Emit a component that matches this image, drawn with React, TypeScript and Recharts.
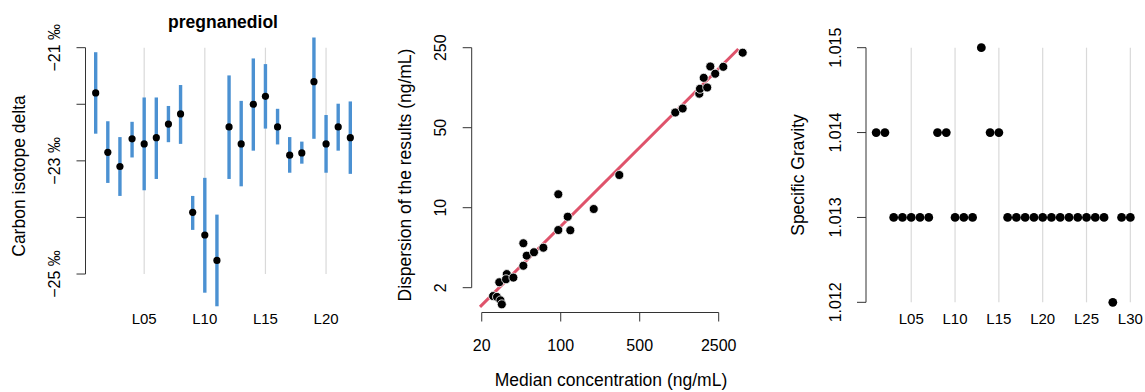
import { ScatterChart, Scatter, XAxis, YAxis, ErrorBar, ReferenceLine } from "recharts";

// panel 1: pregnanediol carbon isotope delta per lab
const isoLabs = [1, 2, 3, 4, 5, 6, 7, 8, 9, 10, 11, 12, 13, 14, 15, 16, 17, 18, 19, 20, 21, 22];
const isoValue = [-21.8, -22.85, -23.1, -22.61, -22.7, -22.59, -22.35, -22.17, -23.91, -24.31, -24.76, -22.4, -22.7, -22.0, -21.86, -22.4, -22.9, -22.86, -21.6, -22.7, -22.4, -22.59];
const isoLow = [-22.52, -23.39, -23.62, -22.94, -23.52, -23.32, -22.67, -22.7, -24.22, -25.33, -25.57, -23.32, -23.45, -22.82, -22.43, -22.71, -23.21, -23.05, -22.61, -23.21, -22.82, -23.23];
const isoHigh = [-21.08, -22.3, -22.58, -22.31, -21.88, -21.88, -22.03, -21.66, -23.62, -23.3, -23.95, -21.49, -21.94, -21.19, -21.29, -22.08, -22.58, -22.66, -20.82, -22.19, -21.99, -21.95];
const isoYTicks = [-25, -24, -23, -22, -21];
const isoYLabels = ["\u221225 \u2030", "", "\u221223 \u2030", "", "\u221221 \u2030"];
const isoXTicks = [5, 10, 15, 20];
const isoXLabels = ["L05", "L10", "L15", "L20"];

// panel 2: dispersion vs median concentration (log-log)
const medianConc = [25.2, 27.3, 29.3, 30.1, 28.6, 33.3, 32.8, 38.1, 46.7, 46.7, 50.0, 58.0, 70.2, 95.2, 121.6, 95.2, 115.3, 195.9, 330, 1032, 1200, 1684, 1708, 1978, 1842, 2107, 2328, 2746, 4076];
const dispersion = [1.69, 1.66, 1.55, 1.43, 2.23, 2.63, 2.37, 2.45, 3.11, 4.89, 3.81, 4.08, 4.47, 6.38, 6.35, 13.1, 8.34, 9.74, 19.3, 67.9, 73.6, 99.1, 109.4, 112.3, 136.4, 171.3, 148.1, 170.2, 226.2];
const fitConc = [19.3, 3728];
const fitDisp = [1.36, 243.5];
const concTicks = [20, 100, 500, 2500];
const dispTicks = [2, 10, 50, 250];

// panel 3: specific gravity per lab
const sgLabs = Array.from({ length: 30 }, (_, i) => i + 1);
const sgValue = [1.014, 1.014, 1.013, 1.013, 1.013, 1.013, 1.013, 1.014, 1.014, 1.013, 1.013, 1.013, 1.015, 1.014, 1.014, 1.013, 1.013, 1.013, 1.013, 1.013, 1.013, 1.013, 1.013, 1.013, 1.013, 1.013, 1.013, 1.012, 1.013, 1.013];
const sgYTicks = [1.012, 1.013, 1.014, 1.015];
const sgXTicks = [5, 10, 15, 20, 25, 30];
const sgXLabels = ["L05", "L10", "L15", "L20", "L25", "L30"];

const FONT = '"Liberation Sans", Arial, Helvetica, sans-serif';
const AXIS = "#333";
const GRID = "#d9d9d9";
const BLUE = "#4b91d2";
const RED = "#df536b";

const isoData = isoLabs.map((lab, i) => ({
  x: lab,
  y: isoValue[i],
  err: [isoValue[i] - isoLow[i], isoHigh[i] - isoValue[i]],
}));
const concData = medianConc.map((c, i) => ({ x: c, y: dispersion[i] }));
const fitData = fitConc.map((c, i) => ({ x: c, y: fitDisp[i] }));
const sgData = sgLabs.map((lab, i) => ({ x: lab, y: sgValue[i] }));

const rotTick = (labels?: string[], ticks?: number[]) => (props: any) => {
  const { x, y, payload } = props;
  let text = String(payload.value);
  if (labels && ticks) text = labels[ticks.indexOf(payload.value)] ?? "";
  return (
    <text x={x} y={y} dy="0.35em" textAnchor="middle" transform={`rotate(-90, ${x}, ${y})`}
      fontFamily={FONT} fontSize={16} fill="#000">
      {text}
    </text>
  );
};

const flatTick = (labels: string[] | null, ticks: number[] | null, size: number) => (props: any) => {
  const { x, y, payload } = props;
  let text = String(payload.value);
  if (labels && ticks) text = labels[ticks.indexOf(payload.value)] ?? "";
  return (
    <text x={x} y={y} dy="0.35em" textAnchor="middle" fontFamily={FONT} fontSize={size} fill="#000">
      {text}
    </text>
  );
};

const dot = (r: number, outline?: boolean) => (props: any) => (
  <circle cx={props.cx} cy={props.cy} r={r} fill="#000"
    stroke={outline ? "#fff" : "none"} strokeWidth={outline ? 0.8 : 0} />
);

const noDot = () => <g />;

const IsotopePanel = () => (
  <ScatterChart width={381} height={392} margin={{ top: 37.5, right: 20.5, bottom: 49.5, left: 25.5 }}>
    <XAxis type="number" dataKey="x" domain={[0.16, 22.84]} ticks={isoXTicks} axisLine={false}
      tickLine={false} tickSize={0} tickMargin={6} height={30} allowDataOverflow
      tick={flatTick(isoXLabels, isoXTicks, 15)} />
    <YAxis type="number" dataKey="y" domain={[-25.68, -20.82]} ticks={isoYTicks} width={60}
      axisLine={false} tickLine={{ stroke: AXIS }} stroke={AXIS} tickSize={9} tickMargin={22}
      allowDataOverflow tick={rotTick(isoYLabels, isoYTicks)} />
    {isoXTicks.map((t) => (
      <ReferenceLine key={t} segment={[{ x: t, y: -21 }, { x: t, y: -25 }]} stroke={GRID} strokeWidth={1.2} ifOverflow="visible" />
    ))}
    <ReferenceLine segment={[{ x: 0.16, y: -21 }, { x: 0.16, y: -25 }]} stroke={AXIS} ifOverflow="visible" />
    <Scatter data={isoData} isAnimationActive={false} shape={dot(3.6)}>
      <ErrorBar dataKey="err" direction="y" width={0} stroke={BLUE} strokeWidth={3.4} isAnimationActive={false} />
    </Scatter>
  </ScatterChart>
);

const ConcPanel = () => (
  <ScatterChart width={381} height={392} margin={{ top: 37.5, right: 10, bottom: 49.5, left: 30.7 }}>
    <XAxis type="number" dataKey="x" scale="log" domain={[16.3, 4928]} ticks={concTicks} height={30}
      axisLine={false} tickLine={{ stroke: AXIS }} stroke={AXIS} tickSize={9} tickMargin={23.5}
      allowDataOverflow tick={flatTick(null, null, 16)} />
    <YAxis type="number" dataKey="y" scale="log" domain={[1.214, 307]} ticks={dispTicks} width={60}
      axisLine={false} tickLine={{ stroke: AXIS }} stroke={AXIS} tickSize={9} tickMargin={22}
      allowDataOverflow tick={rotTick()} />
    <ReferenceLine segment={[{ x: 16.3, y: 2 }, { x: 16.3, y: 250 }]} stroke={AXIS} ifOverflow="visible" />
    <ReferenceLine segment={[{ x: 20, y: 1.214 }, { x: 2500, y: 1.214 }]} stroke={AXIS} ifOverflow="visible" />
    <Scatter data={fitData} isAnimationActive={false} shape={noDot}
      line={{ stroke: RED, strokeWidth: 3 }} lineType="joint" />
    <Scatter data={concData} isAnimationActive={false} shape={dot(4.5, true)} />
  </ScatterChart>
);

const GravityPanel = () => (
  <ScatterChart width={383} height={392} margin={{ top: 37.5, right: 4.5, bottom: 49.5, left: 44 }}>
    <XAxis type="number" dataKey="x" domain={[-0.16, 31.16]} ticks={sgXTicks} axisLine={false}
      tickLine={false} tickSize={0} tickMargin={6} height={30} allowDataOverflow
      tick={flatTick(sgXLabels, sgXTicks, 15)} />
    <YAxis type="number" dataKey="y" domain={[1.01188, 1.01512]} ticks={sgYTicks} width={60}
      axisLine={false} tickLine={{ stroke: AXIS }} stroke={AXIS} tickSize={9} tickMargin={22}
      allowDataOverflow tick={rotTick()} />
    {sgXTicks.map((t) => (
      <ReferenceLine key={t} segment={[{ x: t, y: 1.012 }, { x: t, y: 1.015 }]} stroke={GRID} strokeWidth={1.2} ifOverflow="visible" />
    ))}
    <ReferenceLine segment={[{ x: -0.16, y: 1.012 }, { x: -0.16, y: 1.015 }]} stroke={AXIS} ifOverflow="visible" />
    <Scatter data={sgData} isAnimationActive={false} shape={dot(4.4)} />
  </ScatterChart>
);

export default function App() {
  return (
    <div style={{ position: "absolute", left: 0, top: 0, width: 1145, height: 392, background: "#fff", fontFamily: FONT }}>
      <div style={{ position: "absolute", left: 0, top: 0 }}><IsotopePanel /></div>
      <div style={{ position: "absolute", left: 381, top: 0 }}><ConcPanel /></div>
      <div style={{ position: "absolute", left: 762, top: 0 }}><GravityPanel /></div>
      <svg width={1145} height={392} style={{ position: "absolute", left: 0, top: 0, pointerEvents: "none" }}>
        <text x={223} y={22} dy="0.35em" textAnchor="middle" fontFamily={FONT} fontSize={17.5} fontWeight="bold">pregnanediol</text>
        <text x={18.5} y={176} dy="0.35em" textAnchor="middle" fontFamily={FONT} fontSize={17.5} transform="rotate(-90, 18.5, 176)">Carbon isotope delta</text>
        <text x={405} y={175} dy="0.35em" textAnchor="middle" fontFamily={FONT} fontSize={17.5} transform="rotate(-90, 405, 175)">Dispersion of the results (ng/mL)</text>
        <text x={611} y={380} dy="0.35em" textAnchor="middle" fontFamily={FONT} fontSize={17.5}>Median concentration (ng/mL)</text>
        <text x={798} y={175} dy="0.35em" textAnchor="middle" fontFamily={FONT} fontSize={17.5} transform="rotate(-90, 798, 175)">Specific Gravity</text>
      </svg>
    </div>
  );
}
